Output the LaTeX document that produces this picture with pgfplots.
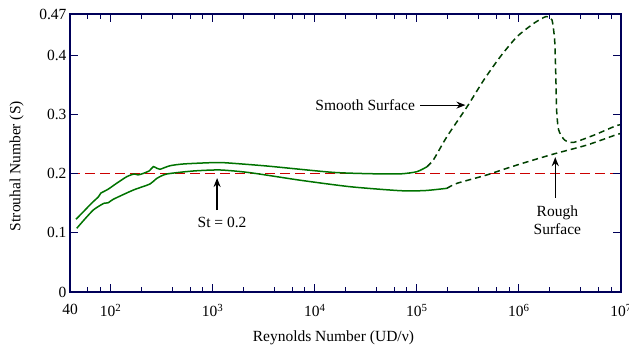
\documentclass[border=0pt]{standalone}
\usepackage{fontspec}
\setmainfont{Liberation Serif}
\usepackage{pgfplots}
\pgfplotsset{compat=1.18}
\usetikzlibrary{arrows.meta}
\colorlet{axcol}{blue!35!black}
\colorlet{grn}{green!45!black}
\colorlet{dgrn}{green!25!black}
\colorlet{redline}{red!80!black}
\begin{document}
\begin{tikzpicture}[font=\fontsize{15.5}{18}\selectfont]
\useasboundingbox (-70pt,-57pt) rectangle (559pt,292pt);
\begin{axis}[
  at={(0pt,0pt)}, anchor=south west,
  scale only axis, width=551pt, height=278pt,
  xmode=log, xmin=40, xmax=1e7, ymin=0, ymax=0.47,
  axis line style={axcol, line width=1.1pt},
  tick style={axcol, line width=1pt, solid},
  major tick length=8pt, minor tick length=5pt,
  xtick={40,100,1000,10000,100000,1000000,10000000},
  xticklabels={\raisebox{7pt}{40},10\textsuperscript{2},10\textsuperscript{3},10\textsuperscript{4},10\textsuperscript{5},10\textsuperscript{6},10\textsuperscript{7}},
  minor xtick={60,80,200,400,600,800,2000,4000,6000,8000,20000,40000,60000,80000,200000,400000,600000,800000,2000000,4000000,6000000,8000000},
  xticklabel shift=9pt,
  ytick={0,0.1,0.2,0.3,0.4,0.47},
  yticklabels={0,0.1,0.2,0.3,0.4,0.47},
  xlabel={Reynolds Number (UD/ν)},
  ylabel={Strouhal Number (S)},
  xlabel style={at={(axis description cs:0.478,-0.165)}, anchor=center},
  ylabel style={at={(axis description cs:-0.097,0.453)}, anchor=center},
  axis on top,
]
% St = 0.2 reference line
\addplot[redline, line width=1.5pt, dash pattern=on 10pt off 5pt] coordinates {(40,0.2) (1e7,0.2)};
% upper band, solid
\addplot[grn, line width=1.5pt, solid, smooth, tension=0.4] coordinates {
(45.8,0.123)(55,0.137)(65,0.150)(76,0.161)(80,0.167)(86,0.170)(95,0.174)(115,0.184)(144,0.195)(170,0.1995)(185,0.198)(205,0.200)(240,0.205)(262,0.212)(285,0.209)(305,0.2075)(382,0.2135)(520,0.2165)(944,0.2186)(1300,0.2186)(3400,0.213)(15000,0.2023)(40000,0.1998)(70000,0.1998)(100000,0.2034)(125000,0.2115)};
% smooth surface, dashed
\addplot[dgrn, line width=1.5pt, dash pattern=on 6pt off 4pt, smooth, tension=0.4] coordinates {
(125000,0.2115)(146000,0.224)(197000,0.2626)(310000,0.313)(451000,0.358)(658000,0.398)(957000,0.4316)(1393000,0.454)(1746000,0.464)(1884000,0.4655)(2108000,0.46)(2240000,0.425)(2300000,0.364)(2340000,0.3077)(2450000,0.274)(2800000,0.257)(3436000,0.253)(5395000,0.265)(8810000,0.2806)(1e7,0.283)};
% lower band, solid
\addplot[grn, line width=1.5pt, solid, smooth, tension=0.4] coordinates {
(46.6,0.1077)(55,0.122)(67.6,0.1386)(80,0.147)(86,0.150)(95,0.151)(106,0.1567)(167,0.1724)(243,0.1826)(283,0.192)(355,0.1995)(647,0.2046)(1183,0.2063)(2330,0.2017)(7190,0.189)(22230,0.178)(68700,0.1713)(120000,0.1715)(197000,0.1753)};
% rough surface, dashed
\addplot[dgrn, line width=1.5pt, dash pattern=on 6pt off 4pt, smooth, tension=0.4] coordinates {
(197000,0.1753)(247000,0.1837)(486000,0.198)(957000,0.2147)(2188000,0.2333)(4645000,0.2485)(8810000,0.2654)(1e7,0.268)};
% annotations
\node at (axis cs:3.12e4,0.316) {Smooth Surface};
\draw[black, solid, line width=1.1pt, -{Stealth[length=9pt,width=7pt]}] (axis cs:1.08e5,0.316) -- (axis cs:2.99e5,0.316);
\node at (axis cs:1236,0.118) {St = 0.2};
\draw[black, solid, line width=1.5pt, -{Stealth[length=9pt,width=7pt]}] (axis cs:1104,0.1386) -- (axis cs:1104,0.1927);
\node[align=center, inner sep=0pt] at (axis cs:2.38e6,0.1217) {Rough\\Surface};
\draw[black, solid, line width=1.5pt, -{Stealth[length=9pt,width=7pt]}] (axis cs:2.27e6,0.159) -- (axis cs:2.27e6,0.228);
\end{axis}
\end{tikzpicture}
\end{document}
